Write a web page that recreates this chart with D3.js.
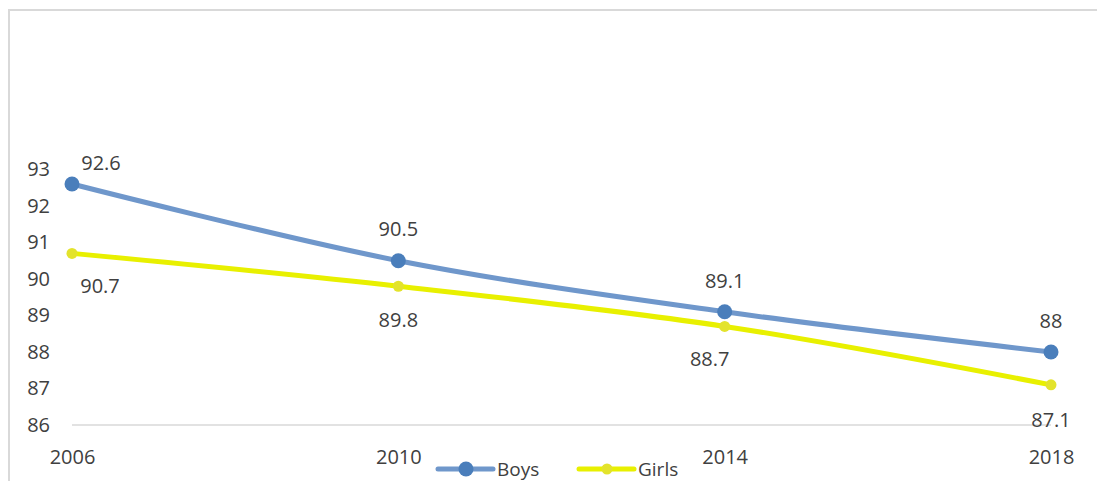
<!DOCTYPE html>
<html>
<head>
<meta charset="utf-8">
<script src="https://cdn.jsdelivr.net/npm/d3@7"></script>
<style>
  body { margin: 0; background: #fff; }
  svg { display: block; font-family: "Open Sans", sans-serif; }
</style>
</head>
<body>
<div class="chart"></div>
<script>
// chart data
const years = ["2006", "2010", "2014", "2018"];
const boys = [92.6, 90.5, 89.1, 88];
const girls = [90.7, 89.8, 88.7, 87.1];
const yTicks = [86, 87, 88, 89, 90, 91, 92, 93];

const svgWidth = 1097;
const svgHeight = 481;

// label nudges (Excel moved a few of them)
const boysLabelDx = [29, 0, 0, 0];
const boysLabelDy = [-22, -32, -31, -31];
const girlsLabelDx = [28, 0, -15, 0];
const girlsLabelDy = [32, 33, 32, 35];

const textColor = "#404040";
const fontSize = 20;

const svg = d3.select(".chart")
  .append("svg")
  .attr("width", svgWidth)
  .attr("height", svgHeight);

// outer frame
svg.append("rect")
  .attr("x", 9)
  .attr("y", 10)
  .attr("width", 1200)
  .attr("height", 600)
  .attr("fill", "none")
  .attr("stroke", "#d9d9d9")
  .attr("stroke-width", 2);

const xScale = d3.scalePoint()
  .domain(years)
  .range([72, 1051]);

const yScale = d3.scaleLinear()
  .domain([86, 93])
  .range([425, 169.4]);

// category axis line
svg.append("line")
  .attr("x1", xScale(years[0]))
  .attr("x2", xScale(years[years.length - 1]))
  .attr("y1", yScale(86))
  .attr("y2", yScale(86))
  .attr("stroke", "#d9d9d9")
  .attr("stroke-width", 1.5);

// y axis labels
const leftAxis = d3.axisLeft(yScale)
  .tickValues(yTicks)
  .tickFormat(d3.format("d"))
  .tickSize(0)
  .tickPadding(22);

svg.append("g")
  .attr("transform", `translate(72, 0)`)
  .call(leftAxis)
  .call(g => g.select(".domain").remove())
  .selectAll("text")
  .attr("fill", textColor)
  .attr("font-size", fontSize)
  .attr("font-family", "Open Sans, sans-serif");

// x axis labels
const bottomAxis = d3.axisBottom(xScale)
  .tickSize(0)
  .tickPadding(25);

svg.append("g")
  .attr("transform", `translate(0, ${yScale(86)})`)
  .call(bottomAxis)
  .call(g => g.select(".domain").remove())
  .selectAll("text")
  .attr("fill", textColor)
  .attr("font-size", fontSize)
  .attr("font-family", "Open Sans, sans-serif");

const line = d3.line()
  .x((d, i) => xScale(years[i]))
  .y(d => yScale(d))
  .curve(d3.curveCatmullRom.alpha(0.5));

const series = [
  { name: "Boys", values: boys, line: "#6f97cb", marker: "#4a7ebb", r: 7.5, width: 5,
    dx: boysLabelDx, dy: boysLabelDy },
  { name: "Girls", values: girls, line: "#e8f000", marker: "#e3e32c", r: 5.5, width: 5,
    dx: girlsLabelDx, dy: girlsLabelDy }
];

series.forEach(function (s) {
  svg.append("path")
    .datum(s.values)
    .attr("d", line)
    .attr("fill", "none")
    .attr("stroke", s.line)
    .attr("stroke-width", s.width)
    .attr("stroke-linejoin", "round");

  svg.selectAll(`.pt-${s.name}`)
    .data(s.values)
    .enter()
    .append("circle")
    .attr("class", `pt-${s.name}`)
    .attr("cx", (d, i) => xScale(years[i]))
    .attr("cy", d => yScale(d))
    .attr("r", s.r)
    .attr("fill", s.marker);
});

// data labels
series.forEach(function (s) {
  svg.selectAll(`.lbl-${s.name}`)
    .data(s.values)
    .enter()
    .append("text")
    .attr("class", `lbl-${s.name}`)
    .attr("x", (d, i) => xScale(years[i]) + s.dx[i])
    .attr("y", (d, i) => yScale(d) + s.dy[i])
    .attr("text-anchor", "middle")
    .attr("dominant-baseline", "central")
    .attr("fill", textColor)
    .attr("font-size", fontSize)
    .text(d => d);
});

// legend
const legendItems = [
  { name: "Boys", x: 438, line: "#6f97cb", marker: "#4a7ebb", r: 7.5 },
  { name: "Girls", x: 579, line: "#e8f000", marker: "#e3e32c", r: 5.5 }
];
const legendY = 469;

legendItems.forEach(function (item) {
  const g = svg.append("g");
  g.append("line")
    .attr("x1", item.x)
    .attr("x2", item.x + 55)
    .attr("y1", legendY)
    .attr("y2", legendY)
    .attr("stroke", item.line)
    .attr("stroke-width", 5)
    .attr("stroke-linecap", "round");
  g.append("circle")
    .attr("cx", item.x + 28)
    .attr("cy", legendY)
    .attr("r", item.r)
    .attr("fill", item.marker);
  g.append("text")
    .attr("x", item.x + 59)
    .attr("y", legendY)
    .attr("dominant-baseline", "central")
    .attr("fill", textColor)
    .attr("font-size", 19)
    .text(item.name);
});
</script>
</body>
</html>
